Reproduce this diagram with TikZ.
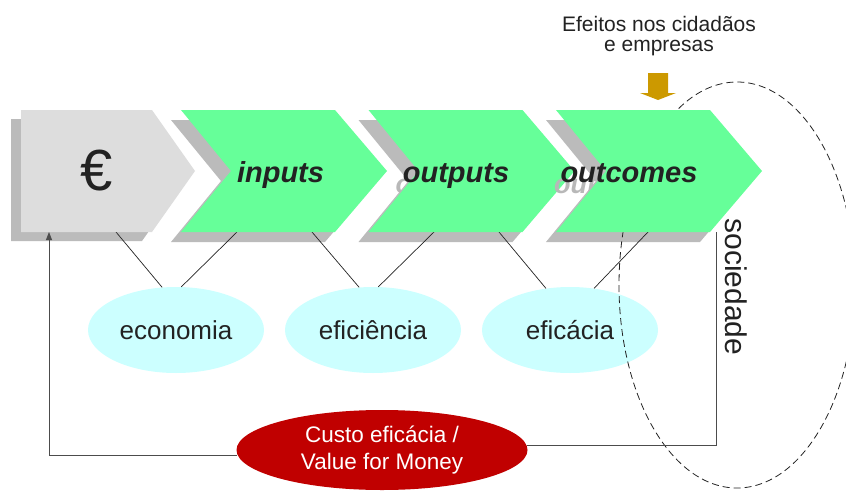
\documentclass[tikz,border=0pt]{standalone}
\usepackage{fontspec}
\setmainfont{Liberation Sans}
\usetikzlibrary{shapes.geometric,arrows.meta}
\definecolor{grn}{HTML}{66FF99}
\definecolor{lgray}{HTML}{DDDDDD}
\definecolor{sgray}{HTML}{BBBBBB}
\definecolor{cyn}{HTML}{CCFFFF}
\definecolor{dred}{HTML}{C00000}
\definecolor{gold}{HTML}{CC9900}
\definecolor{ink}{HTML}{222222}
\begin{document}
\begin{tikzpicture}[x=1pt,y=-1pt,
  steptext/.style={font=\fontsize{29}{34}\selectfont\bfseries\itshape, text=ink, anchor=base, inner sep=0pt},
  ghost/.style={font=\fontsize{27}{32}\selectfont\bfseries\itshape, text=black!28, anchor=base, inner sep=0pt},
  measure/.style={ellipse, fill=cyn, minimum width=176pt, minimum height=86pt, inner sep=0pt, font=\fontsize{26}{30}\selectfont, text=ink},
  link/.style={draw=ink, line width=0.7pt},
  fback/.style={draw=black!70, line width=0.9pt}]
\useasboundingbox (0,0) rectangle (846,490);
% shadows
\fill[sgray] (11,119) -- (142,119) -- (185,180) -- (142,241) -- (11,241) -- cycle;
\foreach \x in {181,368.5,556}
  \fill[sgray] (\x-10,120) -- ++(154,0) -- ++(52,61) -- ++(-52,61) -- ++(-154,0) -- ++(50,-61) -- cycle;
% anchor coordinates on chevron bottoms
\coordinate (eb1) at (116,232);
\coordinate (ib1) at (237,232);
\coordinate (ib2) at (312,232);
\coordinate (ob1) at (434,232);
\coordinate (ob2) at (499,232);
\coordinate (cb1) at (648,232);
\coordinate (fbr) at (716,232);
\coordinate (fbl) at (49,232);
% measure ellipses
\node[measure] (eco) at (176,330) {economia};
\node[measure] (efi) at (373,330) {eficiência};
\node[measure] (efc) at (570,330) {eficácia};
\draw[link] (eb1) -- (eco.108);
\draw[link] (ib1) -- (eco.83);
\draw[link] (ib2) -- (efi.108);
\draw[link] (ob1) -- (efi.83);
\draw[link] (ob2) -- (efc.120);
\draw[link] (cb1) -- (efc.60);
% society ellipse
\draw[ink, line width=0.8pt, dash pattern=on 7pt off 4pt] (737,285) ellipse [x radius=118, y radius=203];
% euro box
\fill[lgray] (21,110) -- (152,110) -- (195,171) -- (152,232) -- (21,232) -- cycle;
\node[font=\fontsize{58}{60}\selectfont, text=ink, inner sep=0pt] (eur) at (97,171) {€};
% green chevrons
\fill[grn] (181,110) -- ++(154,0) -- ++(52,61) -- ++(-52,61) -- ++(-154,0) -- ++(50,-61) -- cycle;
\node[ghost] (gout) at (445,193) {outputs};
\fill[grn] (368.5,110) -- ++(154,0) -- ++(52,61) -- ++(-52,61) -- ++(-154,0) -- ++(50,-61) -- cycle;
\node[ghost] (gocm) at (618,193) {outcomes};
\fill[grn] (556,110) -- ++(154,0) -- ++(52,61) -- ++(-52,61) -- ++(-154,0) -- ++(50,-61) -- cycle;
\node[steptext] (inp) at (280.5,182) {inputs};
\node[steptext] (outp) at (456,182) {outputs};
\node[steptext] (outc) at (629,182) {outcomes};
% gold arrow
\fill[gold] (648,73) -- (668,73) -- (668,93) -- (676,93) -- (658,100) -- (640,93) -- (648,93) -- cycle;
\node[font=\fontsize{21}{21}\selectfont, text=ink, anchor=base, inner sep=0pt] (ef1) at (659,31) {Efeitos nos cidadãos};
\node[font=\fontsize{21}{21}\selectfont, text=ink, anchor=base, inner sep=0pt] (ef2) at (659,51) {e empresas};
% sociedade
\node[rotate=-90, font=\fontsize{30}{36}\selectfont, text=ink, inner sep=0pt] (soc) at (736,287) {sociedade};
% value for money
\node[ellipse, fill=dred, minimum width=291pt, minimum height=80pt, inner sep=0pt, text=white, font=\fontsize{22.5}{27}\selectfont, align=center] (vfm) at (382,450) {Custo eficácia /\\Value for Money};
\draw[fback] (fbr) |- (vfm.2);
\draw[fback, -{Triangle[length=8pt,width=6pt]}] (vfm.182) -| (fbl);
\end{tikzpicture}
\end{document}
